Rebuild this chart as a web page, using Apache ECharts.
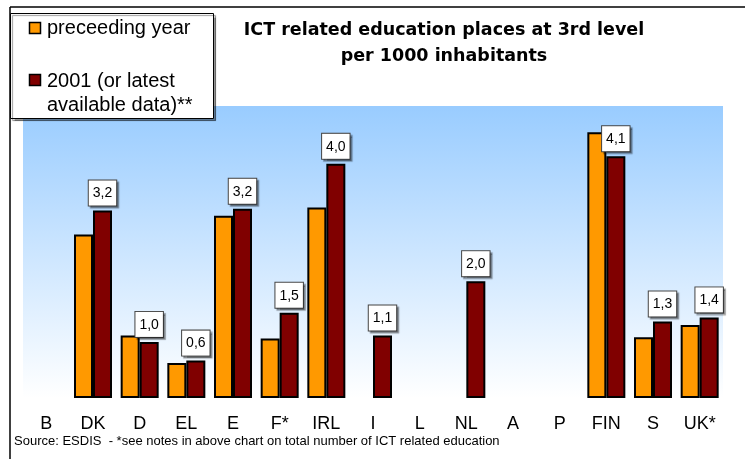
<!DOCTYPE html>
<html>
<head>
<meta charset="utf-8">
<script src="https://cdn.jsdelivr.net/npm/echarts@6/dist/echarts.min.js"></script>
<style>
html,body{margin:0;padding:0;background:#fff;}
#chart{width:745px;height:459px;}
</style>
</head>
<body>
<div id="chart"></div>
<script>
// ---- data ----
const categories = ['B','DK','D','EL','E','F*','IRL','I','L','NL','A','P','FIN','S','UK*'];
const precedingYear = [null, 2.80, 1.07, 0.60, 3.12, 1.02, 3.26, null, null, null, null, null, 4.55, 1.04, 1.25];
const latestYear    = [null, 3.21, 0.96, 0.64, 3.24, 1.46, 4.01, 1.07, null, 2.00, null, null, 4.14, 1.31, 1.38];
const seriesNames = ['preceeding year', '2001 (or latest\navailable data)**'];
const titleLines = ['ICT related education places at 3rd level', 'per 1000 inhabitants'];
const sourceNote = 'Source: ESDIS  - *see notes in above chart on total number of ICT related education';

const ORANGE = '#FF9900';
const MAROON = '#800000';
const FONT = '"Liberation Sans", Arial, sans-serif';

const chart = echarts.init(document.getElementById('chart'), null, {renderer: 'canvas'});

const option = {
  backgroundColor: '#ffffff',
  animation: false,
  title: {
    text: titleLines.join('\n'),
    left: 439,
    textAlign: 'center',
    top: 12,
    textStyle: {
      fontFamily: '"DejaVu Sans", sans-serif',
      fontWeight: 'bold',
      fontSize: 17.5,
      lineHeight: 26,
      color: '#000'
    }
  },
  grid: {
    left: 23,
    width: 700,
    top: 106,
    height: 292,
    show: true,
    borderWidth: 0,
    backgroundColor: new echarts.graphic.LinearGradient(0, 0, 0, 1, [
      {offset: 0, color: '#99CCFF'},
      {offset: 1, color: '#FFFFFF'}
    ])
  },
  xAxis: {
    type: 'category',
    data: categories,
    axisLine: {show: false},
    axisTick: {show: false},
    axisLabel: {
      margin: 17,
      fontFamily: FONT,
      fontSize: 18,
      color: '#000',
      interval: 0
    }
  },
  yAxis: {
    type: 'value',
    min: 0,
    max: 5,
    show: false,
    splitLine: {show: false}
  },
  series: [
    {
      name: seriesNames[0],
      type: 'bar',
      data: precedingYear,
      barWidth: 19,
      barGap: '0%',
      itemStyle: {color: ORANGE, borderColor: '#000', borderWidth: 2}
    },
    {
      name: seriesNames[1],
      type: 'bar',
      data: latestYear,
      barWidth: 19,
      barGap: '0%',
      itemStyle: {color: MAROON, borderColor: '#000', borderWidth: 2},
      label: {
        show: true,
        position: 'top',
        distance: 5,
        formatter: p => (p.value == null ? '' : p.value.toFixed(1).replace('.', ',')),
        fontFamily: FONT,
        fontSize: 14,
        color: '#000',
        backgroundColor: '#fff',
        borderColor: '#444',
        borderWidth: 1,
        padding: [6, 4, 5, 4],
        shadowColor: 'rgba(0,0,0,0.35)',
        shadowOffsetX: 2,
        shadowOffsetY: 2,
        shadowBlur: 1
      }
    }
  ],
  graphic: [
    // frame lines
    {type: 'line', shape: {x1: 10, y1: 7, x2: 745, y2: 7}, style: {stroke: '#000', lineWidth: 1.5}, z: 100},
    {type: 'line', shape: {x1: 10, y1: 7, x2: 10, y2: 459}, style: {stroke: '#000', lineWidth: 1.5}, z: 100},
    // legend box
    {type: 'rect', shape: {x: 10.5, y: 13.5, width: 203, height: 105},
     style: {fill: '#fff', stroke: '#000', lineWidth: 1, shadowColor: 'rgba(0,0,0,0.4)', shadowOffsetX: 2, shadowOffsetY: 2, shadowBlur: 1}, z: 101},
    {type: 'rect', shape: {x: 29.5, y: 22.5, width: 11, height: 11},
     style: {fill: ORANGE, stroke: '#000', lineWidth: 1.5}, z: 102},
    {type: 'text', x: 47, y: 28.5,
     style: {text: seriesNames[0], font: '20px ' + FONT, fill: '#000', verticalAlign: 'middle'}, z: 102},
    {type: 'rect', shape: {x: 29.5, y: 74.5, width: 11, height: 11},
     style: {fill: MAROON, stroke: '#000', lineWidth: 1.5}, z: 102},
    {type: 'text', x: 47, y: 69,
     style: {text: seriesNames[1], font: '20px ' + FONT, fill: '#000', verticalAlign: 'top', lineHeight: 24}, z: 102},
    // source note
    {type: 'text', x: 14, y: 441,
     style: {text: sourceNote, font: '13px ' + FONT, fill: '#000', verticalAlign: 'middle'}, z: 102}
  ]
};

chart.setOption(option);
</script>
</body>
</html>
